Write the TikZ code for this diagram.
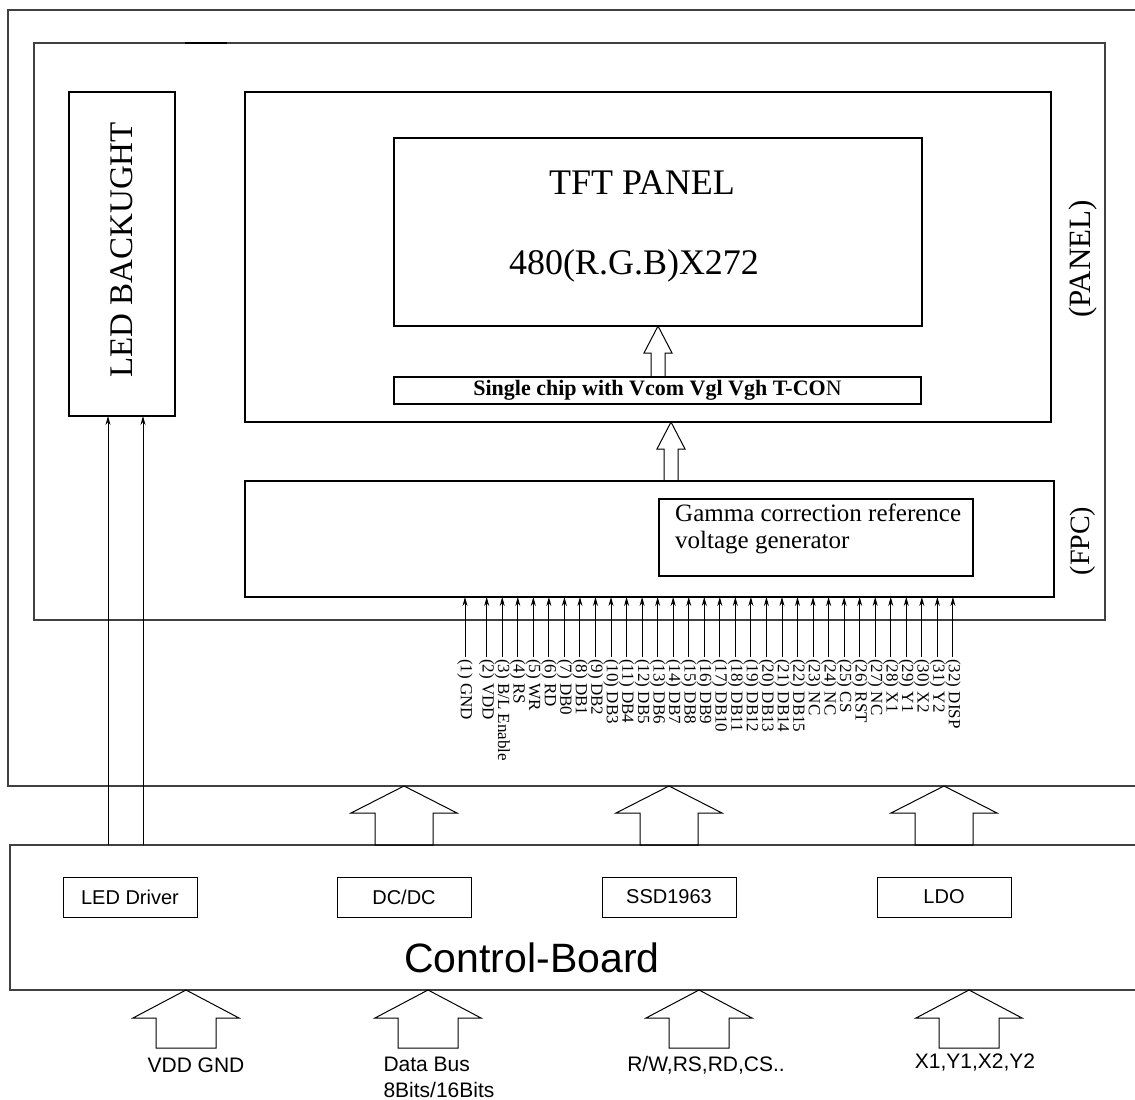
\documentclass[tikz,border=0pt]{standalone}
\usepackage{fontspec}
\setmainfont{Liberation Serif}
\newfontfamily\arialfont{Liberation Sans}
\usetikzlibrary{arrows.meta}

% hollow up arrow: tip, half head width, head height, half shaft width, shaft length
\newcommand{\hollowup}[5]{%
  \draw[fatline] #1 -- ++(#2,#3) -- ++(-#2+#4,0) -- ++(0,#5) -- ++(-2*#4,0)
    -- ++(0,-#5) -- ++(-#2+#4,0) -- cycle;}

\tikzset{
  blk/.style={draw, inner sep=0pt, outer sep=0pt, line width=1.1pt},
  frm/.style={draw=black!75, line width=1.3pt},
  fatline/.style={line width=1pt},
  pin/.style={-{Stealth[length=9pt,width=5pt]}, line width=0.9pt},
  pinlbl/.style={rotate=-90, anchor=west, inner sep=2pt, font=\fontsize{17}{17}\selectfont},
  arl/.style={font=\arialfont\fontsize{21}{26}\selectfont},
}

\begin{document}
\begin{tikzpicture}[x=1pt,y=-1pt]
  \useasboundingbox (0,0) rectangle (1135,1100);
  % outer frame and control board (open on the right)
  \draw[frm] (1135,10) -- (8,10) -- (8,786) -- (1135,786);
  \draw[frm] (1135,845) -- (10,845) -- (10,990) -- (1135,990);
  \coordinate (obot) at (0,786);
  \coordinate (cbtop) at (0,845);
  \coordinate (cbbot) at (0,990);

  % panel side
  \node[blk, draw=black!75, line width=1.3pt, minimum width=1071pt, minimum height=577pt] (frame) at (569.5,331.5) {};
  \draw[line width=2.5pt] (185,43) -- (227,43);
  \node[blk, minimum width=106pt, minimum height=324pt] (led) at (122,254) {};
  \node[rotate=90, font=\fontsize{33}{33}\selectfont] (ledtxt) at (122,250) {LED BACKUGHT};
  \node[blk, minimum width=806pt, minimum height=330pt] (pnl) at (648,257) {};
  \draw[line width=2.5pt] (957,92) -- (978,92);
  \node[rotate=90, font=\fontsize{31}{31}\selectfont] (pnltxt) at (1083,259) {(PANEL)};
  \node[blk, minimum width=528pt, minimum height=188pt] (tft) at (658,232) {};
  \node[font=\fontsize{36}{36}\selectfont] (tfttxt) at (642,183) {TFT PANEL};
  \node[font=\fontsize{36}{36}\selectfont] (restxt) at (634,266) {480(R.G.B)X272};
  \node[blk, minimum width=527pt, minimum height=27pt, font=\fontsize{22}{22}\selectfont]
    (chip) at (657.5,390.5) {\textbf{Single chip with Vcom Vgl Vgh T-CO}N};
  \node[blk, minimum width=809pt, minimum height=116pt] (fpc) at (649.5,539) {};
  \node[rotate=90, font=\fontsize{28}{28}\selectfont] (fpctxt) at (1083,541) {(FPC)};
  \node[blk, minimum width=314pt, minimum height=77pt] (gam) at (816,537.5) {};
  \node[anchor=west, align=left, inner sep=0pt, font=\fontsize{25}{27}\selectfont]
    (gamtxt) at (gam.west) [xshift=16pt, yshift=9pt] {Gamma correction reference\\voltage generator};

  % inner hollow arrows
  \hollowup{(tft.south)}{14}{27}{7}{24}
  \hollowup{(671,0 |- pnl.south)}{14}{27}{7}{32}

  % connector pins
  \foreach \s [count=\k] in {GND, VDD, B/L Enable, RS, WR, RD, DB0, DB1, DB2, DB3, DB4,
      DB5, DB6, DB7, DB8, DB9, DB10, DB11, DB12, DB13, DB14, DB15, NC, NC, CS, RST, NC,
      X1, Y1, X2, Y2, DISP} {
    \pgfmathsetmacro\pinx{ifthenelse(\k==1,465,486.7+(\k-2)*15.54)}
    \node[pinlbl] (p\k) at (\pinx,657) {(\k) \s};
    \draw[pin] (p\k.west) -- (p\k.west |- fpc.south);
  }

  % control board
  \node[blk, line width=1pt, minimum width=134pt, minimum height=40pt, font=\arialfont\fontsize{20}{20}\selectfont] (ldrv) at (130,897) {LED Driver};
  \node[blk, line width=1pt, minimum width=134pt, minimum height=40pt, font=\arialfont\fontsize{20}{20}\selectfont] (dcdc) at (404,897) {DC/DC};
  \node[blk, line width=1pt, minimum width=134pt, minimum height=40pt, font=\arialfont\fontsize{20}{20}\selectfont] (ssd) at (669,897) {SSD1963};
  \node[blk, line width=1pt, minimum width=134pt, minimum height=40pt, font=\arialfont\fontsize{20}{20}\selectfont] (ldo) at (944,897) {LDO};
  \node[font=\arialfont\fontsize{41}{41}\selectfont] (cbtxt) at (532,958) {Control-Board};

  % backlight lines
  \draw[pin] (108,0 |- cbtop) -- (108,0 |- led.south);
  \draw[pin] (143,0 |- cbtop) -- (143,0 |- led.south);

  % hollow arrows board -> panel
  \hollowup{(dcdc |- obot)}{53}{27}{29}{32}
  \hollowup{(ssd |- obot)}{53}{27}{29}{32}
  \hollowup{(ldo |- obot)}{53}{27}{29}{32}

  % inputs
  \hollowup{(186,0 |- cbbot)}{53}{28}{30}{30}
  \hollowup{(428,0 |- cbbot)}{53}{28}{30}{30}
  \hollowup{(699,0 |- cbbot)}{53}{28}{30}{30}
  \hollowup{(969,0 |- cbbot)}{53}{28}{30}{30}
  \node[arl] (in1) at (196,1065) {VDD GND};
  \node[arl, align=left, anchor=west] (in2) at (380,1077) {Data Bus\\8Bits/16Bits};
  \node[arl] (in3) at (706,1065) {R/W,RS,RD,CS..};
  \node[arl] (in4) at (975,1062) {X1,Y1,X2,Y2};
\end{tikzpicture}
\end{document}
